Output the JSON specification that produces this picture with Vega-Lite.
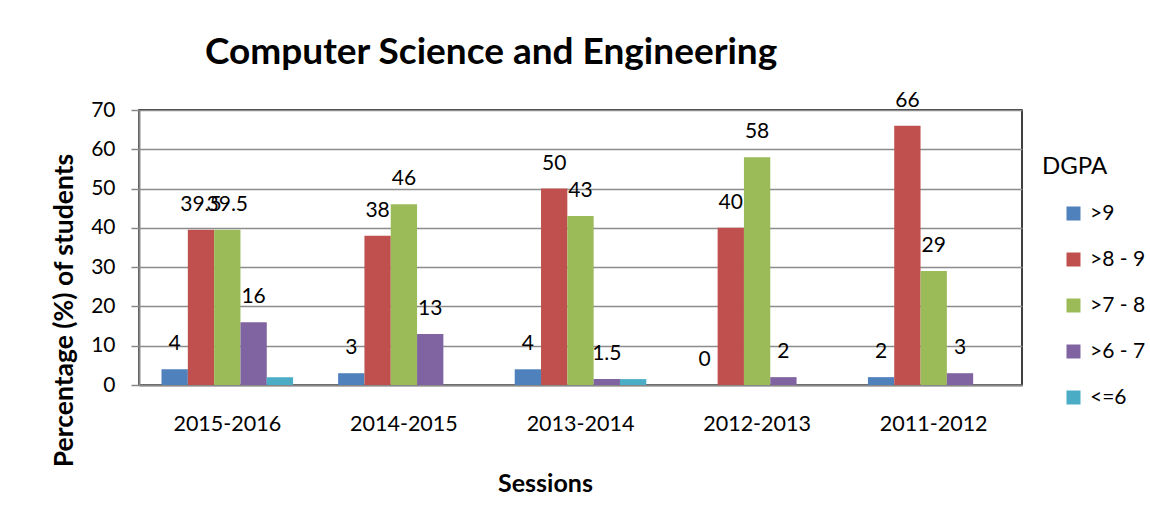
{
  "$schema": "https://vega.github.io/schema/vega-lite/v6.json",
  "autosize": "none",
  "width": 883,
  "height": 275,
  "padding": {"left": 139, "top": 110, "right": 128, "bottom": 131},
  "background": "white",
  "config": {
    "font": "Lato",
    "view": {"stroke": "#000000", "strokeWidth": 1.5},
    "axis": {"labelFont": "Lato", "titleFont": "Lato", "labelColor": "#000000", "titleColor": "#000000"}
  },
  "title": {
    "text": "Computer Science and Engineering",
    "anchor": "start",
    "frame": "group",
    "dx": 66,
    "fontSize": 37,
    "fontWeight": "bold",
    "font": "Lato",
    "color": "#000000",
    "offset": 18
  },
  "data": {
    "values": [
      {"session": "2015-2016", "dgpa": ">9", "pct": 4},
      {"session": "2015-2016", "dgpa": ">8 - 9", "pct": 39.5},
      {"session": "2015-2016", "dgpa": ">7 - 8", "pct": 39.5},
      {"session": "2015-2016", "dgpa": ">6 - 7", "pct": 16},
      {"session": "2015-2016", "dgpa": "<=6", "pct": 2},
      {"session": "2014-2015", "dgpa": ">9", "pct": 3},
      {"session": "2014-2015", "dgpa": ">8 - 9", "pct": 38},
      {"session": "2014-2015", "dgpa": ">7 - 8", "pct": 46},
      {"session": "2014-2015", "dgpa": ">6 - 7", "pct": 13},
      {"session": "2014-2015", "dgpa": "<=6", "pct": 0},
      {"session": "2013-2014", "dgpa": ">9", "pct": 4},
      {"session": "2013-2014", "dgpa": ">8 - 9", "pct": 50},
      {"session": "2013-2014", "dgpa": ">7 - 8", "pct": 43},
      {"session": "2013-2014", "dgpa": ">6 - 7", "pct": 1.5},
      {"session": "2013-2014", "dgpa": "<=6", "pct": 1.5},
      {"session": "2012-2013", "dgpa": ">9", "pct": 0},
      {"session": "2012-2013", "dgpa": ">8 - 9", "pct": 40},
      {"session": "2012-2013", "dgpa": ">7 - 8", "pct": 58},
      {"session": "2012-2013", "dgpa": ">6 - 7", "pct": 2},
      {"session": "2012-2013", "dgpa": "<=6", "pct": 0},
      {"session": "2011-2012", "dgpa": ">9", "pct": 2},
      {"session": "2011-2012", "dgpa": ">8 - 9", "pct": 66},
      {"session": "2011-2012", "dgpa": ">7 - 8", "pct": 29},
      {"session": "2011-2012", "dgpa": ">6 - 7", "pct": 3},
      {"session": "2011-2012", "dgpa": "<=6", "pct": 0}
    ]
  },
  "encoding": {
    "x": {
      "field": "session",
      "type": "nominal",
      "sort": ["2015-2016", "2014-2015", "2013-2014", "2012-2013", "2011-2012"],
      "scale": {"paddingInner": 0.255, "paddingOuter": 0.1275},
      "axis": {
        "title": "Sessions",
        "titleFontSize": 25,
        "titleFontWeight": "bold",
        "titleX": 406,
        "titleY": 98,
        "titleAlign": "center",
        "titleBaseline": "middle",
        "titleAnchor": null,
        "labelFontSize": 21.5,
        "labelAngle": 0,
        "labelPadding": 28,
        "ticks": false,
        "tickSize": 0,
        "domainColor": "#888888",
        "domainWidth": 2
      }
    },
    "xOffset": {
      "field": "dgpa",
      "type": "nominal",
      "scale": {"domain": [">9", ">8 - 9", ">7 - 8", ">6 - 7", "<=6"], "paddingInner": 0, "paddingOuter": 0}
    },
    "y": {
      "field": "pct",
      "type": "quantitative",
      "scale": {"domain": [0, 70], "nice": false},
      "axis": {
        "title": "Percentage (%) of students",
        "titleFontSize": 26.5,
        "titleFontWeight": "bold",
        "titleAngle": -90,
        "titleX": -75,
        "titleY": 200,
        "titleAlign": "center",
        "titleBaseline": "middle",
        "titleAnchor": null,
        "values": [0, 10, 20, 30, 40, 50, 60, 70],
        "labelFontSize": 21,
        "labelPadding": 16,
        "tickSize": 8,
        "tickColor": "#888888",
        "tickWidth": 1.5,
        "domainColor": "#888888",
        "domainWidth": 2,
        "grid": true,
        "gridColor": "#8c8c8c",
        "gridWidth": 1.5
      }
    }
  },
  "layer": [
    {
      "mark": {"type": "bar"},
      "encoding": {
        "color": {
          "field": "dgpa",
          "type": "nominal",
          "scale": {
            "domain": [">9", ">8 - 9", ">7 - 8", ">6 - 7", "<=6"],
            "range": ["#4F81BD", "#C0504D", "#9BBB59", "#8064A2", "#4BACC6"]
          },
          "legend": {
            "title": "DGPA",
            "orient": "none",
            "legendX": 903,
            "legendY": 45,
            "titleFontSize": 24,
            "titleFontWeight": "normal",
            "titleFont": "Lato",
            "titleColor": "#000000",
            "titlePadding": 24,
            "labelFontSize": 21,
            "labelFont": "Lato",
            "labelColor": "#000000",
            "labelOffset": 6,
            "symbolType": "square",
            "symbolSize": 196,
            "symbolStrokeWidth": 0,
            "symbolOffset": 21,
            "rowPadding": 24,
            "padding": 0
          }
        }
      }
    },
    {
      "transform": [{"filter": "datum.dgpa !== '<=6'"}],
      "mark": {"type": "text", "dy": -25, "baseline": "middle", "fontSize": 21, "font": "Lato", "color": "#000000"},
      "encoding": {
        "text": {"field": "pct", "type": "quantitative"}
      }
    }
  ]
}
